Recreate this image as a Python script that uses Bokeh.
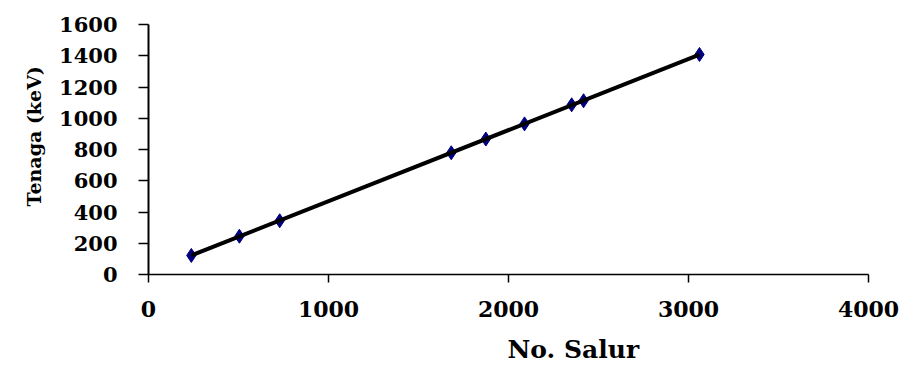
import numpy as np
from bokeh.plotting import figure
from bokeh.models import Range1d, FixedTicker, Title
from bokeh.embed import file_html
from bokeh.resources import INLINE

# Data (channel number vs. energy in keV)
channels = [238, 505, 729, 1682, 1874, 2089, 2351, 2417, 3061]
energies = [122, 245, 344, 779, 867, 964, 1086, 1112, 1408]
x_ticks = [0, 1000, 2000, 3000, 4000]
y_ticks = [0, 200, 400, 600, 800, 1000, 1200, 1400, 1600]
x_title = "No. Salur"
y_title = "Tenaga (keV)"

FONT = "DejaVu Serif"

p = figure(
    frame_width=720, frame_height=250,
    x_range=Range1d(0, 4000), y_range=Range1d(0, 1600),
    output_backend="svg", toolbar_location=None,
    min_border_left=148, min_border_top=24, min_border_right=38, min_border_bottom=90,
)
p.outline_line_color = None
p.xgrid.visible = False
p.ygrid.visible = False
p.background_fill_color = "white"
p.border_fill_color = "white"

for ax, ticks in ((p.xaxis, x_ticks), (p.yaxis, y_ticks)):
    ax.ticker = FixedTicker(ticks=ticks)
    ax.minor_tick_line_color = None
    ax.major_tick_in = 0
    ax.axis_line_color = "black"
    ax.major_tick_line_color = "black"
    ax.major_label_text_font = FONT
    ax.major_label_text_font_style = "bold"
    ax.major_label_text_color = "black"

p.xaxis.major_tick_out = 8
p.xaxis.axis_line_width = 1.5
p.xaxis.major_tick_line_width = 1.5
p.xaxis.major_label_text_font_size = "22px"
p.xaxis.major_label_standoff = 18

p.yaxis.major_tick_out = 10
p.yaxis.axis_line_width = 2
p.yaxis.major_tick_line_width = 1.5
p.yaxis.major_label_text_font_size = "21px"
p.yaxis.major_label_standoff = 21

# markers
p.scatter(channels, energies, marker="diamond", size=14,
          fill_color="#000080", line_color="#000080")

# linear fit line
coef = np.polyfit(channels, energies, 1)
xs = np.array([min(channels), max(channels)])
p.line(xs, np.polyval(coef, xs), line_color="black", line_width=4)

p.add_layout(Title(text=x_title, text_font=FONT, text_font_style="bold",
                   text_font_size="25px", text_color="black",
                   align="left", offset=359, standoff=26), "below")
p.add_layout(Title(text=y_title, text_font=FONT, text_font_style="bold",
                   text_font_size="19px", text_color="black",
                   align="left", offset=68, standoff=24), "left")

open("out.html", "w").write(file_html(p, INLINE))
